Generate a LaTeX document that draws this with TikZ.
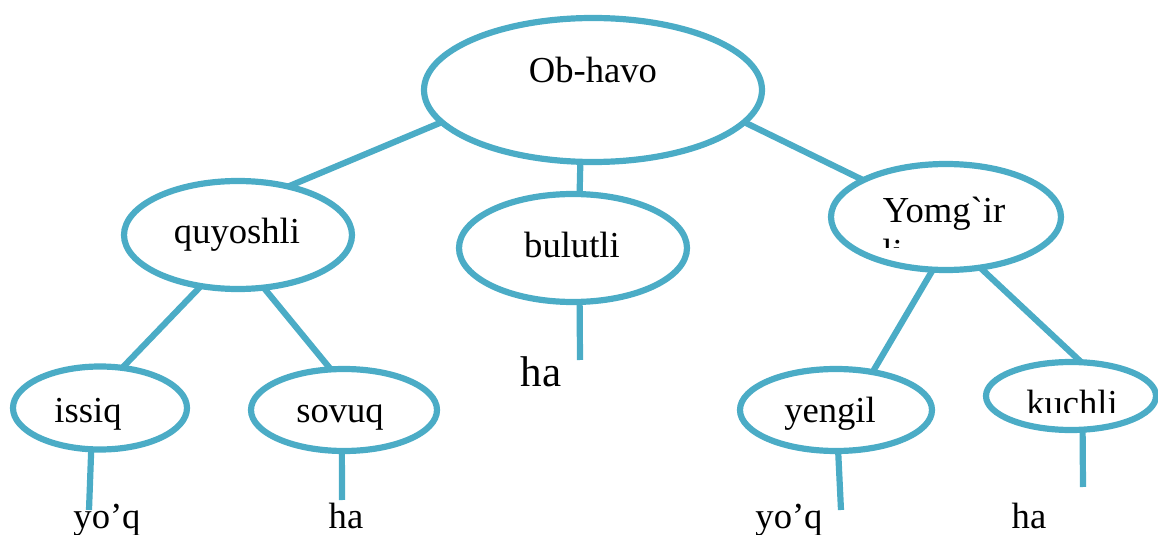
\documentclass[tikz,border=0pt]{standalone}
\usepackage{fontspec}
\setmainfont{Liberation Serif}[Ligatures=TeXOff]
\usetikzlibrary{shapes.geometric}
\definecolor{acc}{RGB}{75,172,198}
\begin{document}
\begin{tikzpicture}[x=0.5pt,y=-0.5pt,
  oval/.style={ellipse, draw=acc, line width=3.1pt, inner sep=0pt, outer sep=0pt},
  edge/.style={draw=acc, line width=3.1pt},
  lbl/.style={anchor=base, inner sep=0pt, font=\fontsize{18.3}{21}\selectfont},
  biglbl/.style={lbl, font=\fontsize{21.5}{25}\selectfont}]
\useasboundingbox (0,0) rectangle (1158,535);
% ellipses
\node[oval, minimum width=169pt, minimum height=72pt] (ob) at (593,90) {};
\node[oval, minimum width=114pt, minimum height=54pt] (qu) at (238,235) {};
\node[oval, minimum width=114pt, minimum height=54pt] (bu) at (573,248) {};
\node[oval, minimum width=115pt, minimum height=53pt] (yo) at (946,217) {};
\node[oval, minimum width=87pt, minimum height=41.5pt] (is) at (100,408) {};
\node[oval, minimum width=93pt, minimum height=41pt] (so) at (344,410) {};
\node[oval, minimum width=96pt, minimum height=41pt] (ye) at (836,410) {};
\node[oval, minimum width=85pt, minimum height=34pt] (ku) at (1071,396) {};
% texts
\node[lbl] (tob) at (593,83) {Ob-havo};
\node[lbl] (tqu) at (237,243) {quyoshli};
\node[lbl] (tbu) at (572,257) {bulutli};
\node[lbl] (tyo) at (944,223) {Yomg`ir};
\begin{scope}
  \clip (850,200) rectangle (1050,248);
  \node[lbl, anchor=base west] (tyo2) at (882,264) {li};
\end{scope}
\node[lbl] (tis) at (88,422) {issiq};
\node[lbl] (tso) at (340,422) {sovuq};
\node[lbl] (tye) at (830,422) {yengil};
\begin{scope}
  \clip (990,370) rectangle (1150,412);
  \node[lbl] (tku) at (1072,415) {kuchli};
\end{scope}
\node[biglbl] (h0) at (541,386) {ha};
\node[lbl] (l1) at (107,528) {yo’q};
\node[lbl] (l2) at (346,528) {ha};
\node[lbl] (l3) at (789,528) {yo’q};
\node[lbl] (l4) at (1029,528) {ha};
% free ends
\coordinate (e0) at (580,360);
\coordinate (e1) at (89,510);
\coordinate (e2) at (342,500);
\coordinate (e3) at (841,510);
\coordinate (e4) at (1083,487);
% connectors
\draw[edge] (ob.192) -- (qu.44);
\draw[edge] (ob.260) -- (bu.83);
\draw[edge] (ob.348) -- (yo.156);
\draw[edge] (qu.234) -- (is.61);
\draw[edge] (qu.296) -- (so.108);
\draw[edge] (yo.256) -- (ye.46);
\draw[edge] (yo.304) -- (ku.73);
\draw[edge] (bu.277) -- (e0);
\draw[edge] (is.258) -- (e1);
\draw[edge] (so.267) -- (e2);
\draw[edge] (ye.273) -- (e3);
\draw[edge] (ku.289) -- (e4);
\end{tikzpicture}
\end{document}
